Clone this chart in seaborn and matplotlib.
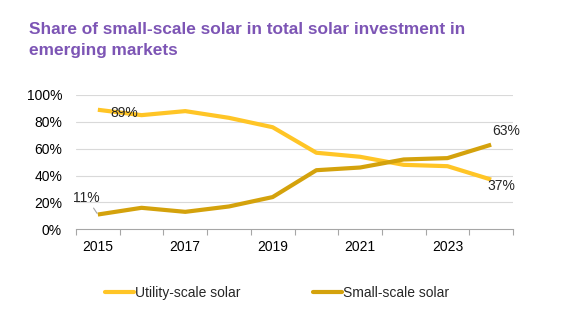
import matplotlib
matplotlib.use("Agg")
import matplotlib.pyplot as plt
import seaborn as sns
import pandas as pd
import numpy as np

years = [2015, 2016, 2017, 2018, 2019, 2020, 2021, 2022, 2023, 2024]
utility = [89, 85, 88, 83, 76, 57, 54, 48, 47, 37]
small = [11, 16, 13, 17, 24, 44, 46, 52, 53, 63]
series_names = ["Utility-scale solar", "Small-scale solar"]
colors = ["#FFC526", "#D4A20C"]
ytick_vals = [0, 20, 40, 60, 80, 100]
xtick_labels = [2015, 2017, 2019, 2021, 2023]

df = pd.DataFrame({
    "Year": years * 2,
    "Share": utility + small,
    "Series": [series_names[0]] * len(years) + [series_names[1]] * len(years),
})

sns.set_theme(style="white")
plt.rcParams["font.family"] = ["Liberation Sans", "DejaVu Sans"]

fig = plt.figure(figsize=(5.64, 3.22), dpi=100)
ax = fig.add_axes([76 / 564, 1 - 229.3 / 322, (513 - 76) / 564, (229.3 - 95) / 322])

sns.lineplot(data=df, x="Year", y="Share", hue="Series", palette=colors,
             linewidth=3, ax=ax, legend=False, solid_capstyle="butt")

ax.set_xlim(2014.5, 2024.5)
ax.set_ylim(0, 100)
ax.set_yticks(ytick_vals)
ax.set_yticklabels([f"{v}%" for v in ytick_vals])
ax.set_xticks(xtick_labels)
ax.set_xticklabels([str(v) for v in xtick_labels])
ax.set_xticks(np.arange(2014.5, 2025, 1), minor=True)
ax.tick_params(axis="x", which="major", length=0, pad=8, labelsize=10, colors="#000000")
ax.tick_params(axis="x", which="minor", length=4, width=0.8, color="#A6A6A6", bottom=True)
ax.tick_params(axis="y", length=0, pad=10, labelsize=10, colors="#000000")
ax.set_xlabel("")
ax.set_ylabel("")
for s in ["top", "right", "left"]:
    ax.spines[s].set_visible(False)
ax.spines["bottom"].set_color("#A6A6A6")
ax.spines["bottom"].set_linewidth(0.8)
for v in ytick_vals[1:]:
    ax.axhline(v, color="#D9D9D9", linewidth=0.8, zorder=0)

# annotations
ax.annotate(f"{utility[0]}%", xy=(years[0], utility[0]), xytext=(9, -2),
            textcoords="offset points", ha="left", va="center", fontsize=10)
ax.annotate(f"{small[0]}%", xy=(years[0], small[0]), xytext=(-8, 7),
            textcoords="offset points", ha="center", va="bottom", fontsize=10,
            arrowprops=dict(arrowstyle="-", color="#A6A6A6", lw=0.8,
                            shrinkA=0, shrinkB=1))
ax.annotate(f"{small[-1]}%", xy=(years[-1], small[-1]), xytext=(1, 4.5),
            textcoords="offset points", ha="left", va="bottom", fontsize=10)
ax.annotate(f"{utility[-1]}%", xy=(years[-1], utility[-1]), xytext=(-3, -4.5),
            textcoords="offset points", ha="left", va="center", fontsize=10)

fig.text(29 / 564, 1 - 22 / 322,
         "Share of small-scale solar in total solar investment in\nemerging markets",
         ha="left", va="top", fontsize=12.4, fontweight="bold", color="#7D55B5",
         linespacing=1.5)

handles = [plt.Line2D([], [], color=c, linewidth=3) for c in colors]
fig.legend(handles, series_names, loc="center", bbox_to_anchor=(277 / 564, 1 - 293 / 322),
           ncol=2, frameon=False, fontsize=10, handlelength=2.1, handletextpad=0.1,
           columnspacing=5.2)

fig.savefig("out.png", dpi=100)
